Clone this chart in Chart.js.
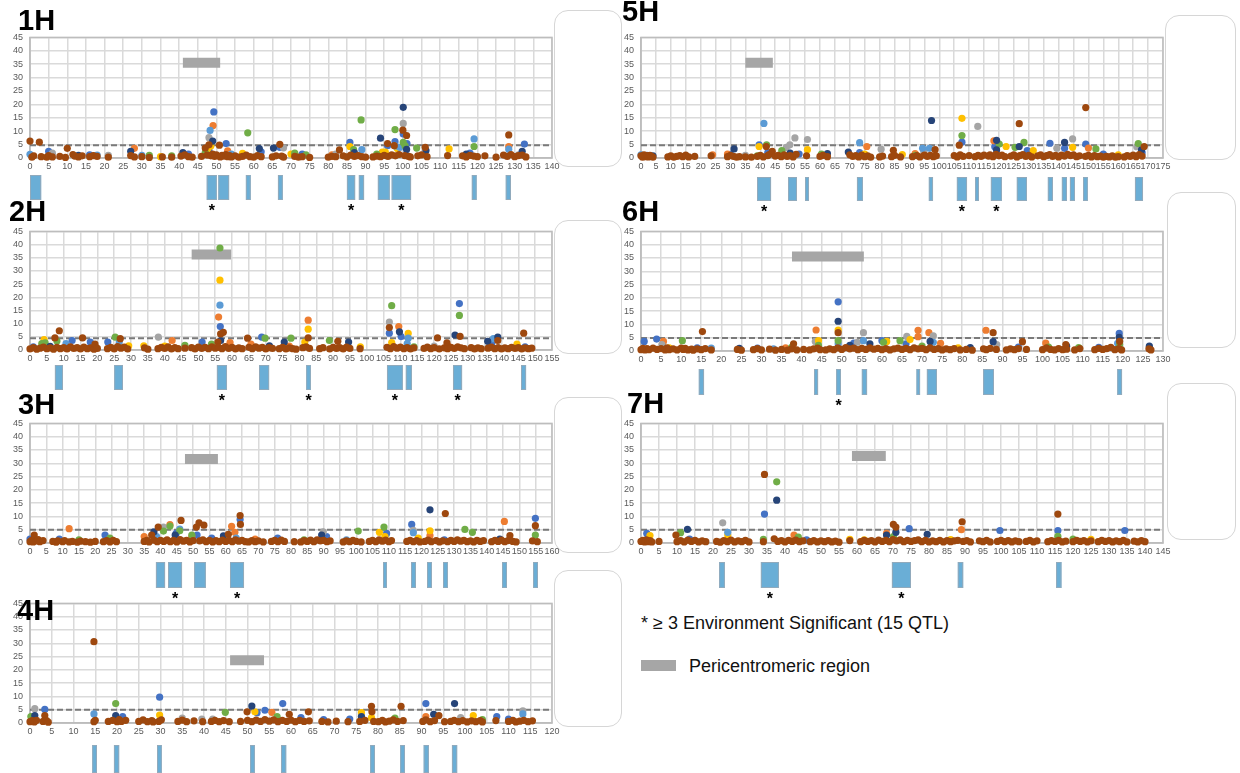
<!DOCTYPE html>
<html>
<head>
<meta charset="utf-8">
<script src="https://cdn.jsdelivr.net/npm/chart.js@4.4.0/dist/chart.umd.min.js"></script>
<style>
  body { margin: 0; width: 1240px; height: 773px; overflow: hidden; background: #fff; position: relative;
         font-family: "Liberation Sans", Arial, sans-serif; }
  .panel { position: absolute; }
  .chr { position: absolute; font-weight: bold; font-size: 29px; line-height: 29px; color: #000; z-index: 2; }
  .box { position: absolute; border: 1px solid #d6d6d6; border-radius: 14px; box-sizing: border-box; }
  .note { position: absolute; font-size: 18px; line-height: 18px; color: #111; white-space: nowrap; }
  .swatch { position: absolute; background: #a6a6a6; }
</style>
</head>
<body>
<div class="box" style="left:554px;top:10px;width:68px;height:157px"></div>
<div class="box" style="left:554px;top:220px;width:68px;height:134px"></div>
<div class="box" style="left:554px;top:397px;width:68px;height:156px"></div>
<div class="box" style="left:554px;top:570px;width:68px;height:157px"></div>
<div class="box" style="left:1165px;top:15px;width:71px;height:145px"></div>
<div class="box" style="left:1167px;top:192px;width:69px;height:156px"></div>
<div class="box" style="left:1167px;top:383px;width:69px;height:157px"></div>

<div class="note" style="left:641px;top:614px">* ≥ 3 Environment Significant (15 QTL)</div>
<div class="swatch" style="left:641px;top:660px;width:35px;height:11px"></div>
<div class="note" style="left:689px;top:657px">Pericentromeric region</div>

<script>
// environments, in the order the series were plotted (last one ends up on top)
const environments = ['E1', 'E2', 'E3', 'E4', 'E5', 'E6', 'E7', 'E8'];
const envColors = ['#4472c4', '#ed7d31', '#a5a5a5', '#ffc000', '#5b9bd5', '#70ad47', '#264478', '#9e480e'];

const chromosomes = ['1H', '2H', '3H', '4H', '5H', '6H', '7H'];
const lengths = [140, 155, 160, 120, 175, 130, 145];      // cM axis maximum
const thresholds = [4.8, 4.5, 5, 5, 4.8, 4.9, 5];         // LOD significance line

// E8 LOD along each chromosome: [cM, LOD]
const base1H = [[0,6.3],[0.5,0.3],[1,0.8],[2.5,5.9],[3,0.5],[4.5,0.3],[5,0.9],[6,0.4],[8,0.6],[9.5,0.2],[10,3.6],[11.5,1.3],[12,0.7],[13,0.4],[14,0.8],[16,0.5],[17,0.9],[18,0.6],[21,0.3],[27,0.9],[28,0.4],[30,0.5],[32,0.2],[35.5,0.4],[38,0.3],[40.5,0.7],[41.5,1.2],[42.5,0.5],[43.5,0.3],[46,0.6],[47,3.7],[47.5,1.1],[48,4.9],[48.5,0.8],[49,1.5],[49.5,0.6],[50,1.2],[50.8,4.8],[51,0.4],[51.5,1],[52,0.7],[52.5,1.3],[53,0.5],[53.5,0.9],[54,0.4],[55,0.8],[56,0.3],[57,0.6],[58,1.1],[59,0.5],[60,0.3],[61,0.9],[62,0.5],[65,0.4],[66,0.8],[67,5.1],[67.5,0.7],[68,0.3],[71,0.6],[72,0.3],[73,0.5],[75,0.2],[80,0.3],[81,0.6],[82,0.5],[83,3],[84,0.8],[85,0.4],[86,1.1],[87,0.6],[88,0.9],[89,0.5],[90,0.3],[92,0.4],[93,0.7],[94,0.5],[95,1],[95.9,5.4],[96,0.6],[97,1.2],[97.7,4.6],[98,0.8],[99,1.3],[100,10.4],[100.5,0.9],[101,8.4],[101.5,0.6],[102,0.4],[104,0.8],[105,1.2],[106,4],[106.5,0.5],[112,0.9],[116,0.8],[117,0.4],[118,1],[119,0.7],[120,0.5],[122,0.8],[125,0.3],[127,1.1],[128,0.6],[128.4,8.6],[129,1.3],[130,0.5],[131,0.9],[132,1.1],[133,0.4]];
const base2H = [[0,0.4],[1,0.9],[2,0.3],[3,0.7],[4,1.1],[5,0.5],[6,0.8],[7,0.3],[7.4,4.6],[8,1],[8.7,7.3],[9,0.5],[10,0.9],[11,0.4],[12,1.2],[13,0.6],[14,0.9],[15,0.4],[15.6,4.6],[16,1.1],[17,0.5],[18,0.8],[19,0.3],[19.3,2.2],[20,0.6],[23,0.5],[24,1],[25,0.4],[26,1.3],[26.8,4.3],[27,0.7],[28,1.1],[29,0.4],[34,0.8],[35,0.3],[38,0.5],[39,1],[40,0.6],[41,1.2],[42,0.4],[43,0.9],[44,0.5],[46,0.7],[48,0.9],[49,0.4],[50,1.1],[51,0.6],[52,1],[53,0.5],[54,1.2],[55,0.7],[55.8,3],[56,1],[56.6,6.1],[57,0.5],[57.4,6.7],[58,1.3],[59,0.6],[60,1],[61,0.4],[62,0.8],[63,0.5],[64.6,4.5],[65,1],[66,0.5],[67,1.2],[68,0.7],[69,1],[70,0.4],[71,0.9],[72,0.6],[74,0.5],[75,1],[76,0.4],[77,0.8],[78,0.5],[79,0.3],[81,0.9],[82,1.2],[82.6,4.6],[83,0.6],[86,0.5],[87,0.9],[89,0.4],[90,1],[91,0.6],[91.4,3.3],[92,0.9],[93,0.4],[94,1.1],[95,0.6],[98,0.5],[106,1],[106.7,8.5],[107,0.5],[108,1.3],[109,0.7],[110,1.1],[111,0.5],[112,0.9],[113,0.4],[114,0.8],[117,0.6],[118,1.1],[119,0.5],[120,0.9],[121,4.6],[121.5,0.4],[123,0.8],[123.8,2.7],[124,0.5],[125,1],[126,0.6],[127,1.2],[127.7,5.2],[128,0.8],[129,0.5],[131,0.9],[132,0.4],[133,0.8],[134,0.5],[136,0.7],[137,1.1],[138,0.5],[138.9,3.6],[139,0.9],[140,0.4],[141,0.8],[142,0.5],[143,1],[144,0.6],[145,0.9],[146,0.4],[146.6,6.4],[147,0.8],[148,0.5],[149,0.7]];
const base3H = [[0,0.5],[0.5,1],[1,0.4],[1.3,3],[2,0.8],[2.5,1.3],[3,0.5],[4,0.9],[7,0.6],[8,0.3],[8.5,0.8],[10,0.5],[10.6,0.9],[12,0.4],[13,0.6],[14.5,0.3],[15.5,0.7],[17,0.5],[18.5,0.3],[20,0.6],[22.5,0.5],[23.5,0.9],[24.5,0.4],[25.5,1],[26.5,0.5],[35,0.6],[35.8,1],[36.5,0.4],[37.3,3],[38,1.1],[39,0.5],[39.3,6],[40,1],[41,0.6],[42,1.2],[43,0.5],[44,1],[45,0.4],[46,1.3],[46.3,8.5],[47,0.7],[48,1],[49,0.4],[50,0.9],[51,6],[51.8,7.6],[52,0.8],[53,1.2],[53.3,6.7],[54,0.5],[55,1],[56,0.4],[57,0.9],[58,0.5],[59,1.1],[60,0.6],[60.8,3.3],[61,1],[62,0.5],[63,1.2],[64,0.7],[64.4,10.3],[64.5,7],[65,1],[66,0.5],[67,0.4],[68,0.9],[69,0.5],[70,0.8],[71.5,0.4],[74,0.6],[75,1],[76,0.5],[77,1.1],[78,0.6],[81,0.5],[83,0.4],[84,0.9],[85,0.6],[86,1.1],[87,0.5],[88,1.2],[89,0.8],[90,1],[91,0.5],[92,0.8],[96,0.4],[97,0.8],[98,0.5],[99,1],[100,0.6],[101.5,0.4],[104,0.6],[105,1],[106,0.5],[107,1.2],[108,0.7],[109,1.1],[110,0.5],[110.8,0.9],[115.5,0.6],[116.5,1],[117.5,0.5],[118.5,0.9],[119.5,0.4],[121,0.6],[122,1.1],[123,0.5],[124.5,0.9],[125.5,0.4],[126.5,0.8],[127.3,11.1],[128,0.5],[129,1],[130,0.6],[131,1.2],[132,0.7],[133,1],[134,0.5],[135,0.8],[136,0.4],[137,1],[138,0.6],[139,0.9],[141.5,0.5],[142.5,1],[143.5,0.6],[144.5,1.1],[145.5,0.5],[146.5,0.9],[147.1,2.8],[148,0.6],[149,0.4],[154,0.8],[154.9,6.5],[155.5,0.5]];
const base4H = [[0,0.5],[0.5,0.9],[1,0.4],[1.5,1],[3,0.6],[3.4,2.8],[3.8,0.9],[4.2,0.3],[14.7,30.6],[14.7,0.5],[15,1],[18,0.6],[19,1],[20,0.5],[20.5,1.3],[21,0.6],[22,1],[25,0.6],[26,1.2],[27,0.5],[28,0.9],[28.3,0.4],[29.6,0.6],[30.2,1.2],[34,0.6],[35,1.1],[36,0.5],[37.7,0.8],[39.7,0.5],[41.7,0.6],[42.5,1],[43.5,0.5],[44.5,0.9],[45.8,0.5],[48.4,0.6],[49.9,4.2],[50,1],[51,0.5],[52,1.1],[53,0.6],[54,1.3],[55,0.7],[56,1.2],[57,0.5],[58,1],[59,0.6],[59.6,3.3],[60,1.1],[61,0.5],[62,1],[63,0.6],[64,4.2],[64.2,0.8],[67.1,0.6],[68.5,0.4],[70.4,0.7],[73.1,0.5],[75.8,0.6],[77,1],[78.5,6.3],[78.6,4.2],[79,0.6],[80.1,0.5],[81,1],[81.7,0.4],[82.6,0.7],[83.5,1.2],[84.5,0.6],[85.3,6.3],[85.8,0.9],[90.3,0.6],[91,1.2],[92,0.5],[93,0.9],[94,2.8],[95.3,0.5],[96.7,0.6],[97.5,1],[98.5,0.5],[99.5,0.9],[100.5,0.4],[101.5,0.8],[102.5,0.5],[103.5,0.9],[104,0.4],[107.1,0.9],[110,0.6],[111,1],[111.7,0.4],[112.6,0.7],[113.5,1],[114.5,0.5],[115.5,0.8]];
const base5H = [[0,0.8],[0.5,0.3],[1,1.2],[1.5,0.5],[2,0.9],[2.5,0.4],[3,1],[3.5,0.6],[4,0.3],[9,0.4],[10,0.8],[11,0.3],[12,0.6],[13,0.9],[14,0.5],[15,1.1],[16,0.4],[18,0.6],[23.5,0.8],[29,0.5],[30,1],[31,0.6],[32,0.3],[33,0.5],[35,0.4],[37,0.3],[39,0.6],[40,1],[41,0.4],[42,4.3],[42.5,0.9],[43,1.3],[44,2.5],[45,0.7],[46,1],[47,0.5],[48,1.2],[49,0.6],[50,0.9],[51,0.4],[52,1.4],[55.5,0.8],[60,0.6],[61,1],[62.5,0.5],[70,1.2],[71,0.6],[72,0.9],[73,0.4],[74,1.1],[75,0.5],[76,0.8],[77,0.3],[80,0.4],[81,0.7],[84,0.5],[84.6,2.9],[85,1],[87,0.4],[91,0.5],[92.5,0.9],[93.5,0.4],[95,1.1],[96,0.6],[97,1],[98,0.5],[98.6,3.1],[99,0.8],[105,0.9],[106,0.4],[106.7,4.8],[107,1.2],[108,0.6],[110,0.9],[112,0.5],[113,1],[114,0.6],[115,1.1],[116.5,0.7],[117,1.2],[118,0.5],[119,1.4],[120,0.8],[121,1.1],[122,0.5],[124,0.7],[125,1.2],[126,0.4],[126.8,12.8],[127,0.9],[128,1.3],[129,0.6],[130,1],[131,0.4],[133,0.8],[134,1.2],[135,0.5],[136,0.9],[137,1.3],[138,0.6],[139,1],[140,0.4],[141,1.1],[142,0.7],[143,1.4],[144,0.9],[145,1.2],[146,0.5],[147,0.8],[149,0.6],[149.1,18.8],[150,1],[151,0.4],[152,0.9],[153,0.5],[154,0.7],[155,0.3],[156,0.6],[157,0.4],[158,0.8],[159,0.3],[160,0.5],[162,0.4],[163,0.9],[164,0.6],[165,1.1],[166,0.5],[167,1.3],[168,0.7],[168.7,4.3]];
const base6H = [[0,0.5],[0.5,1],[1,0.4],[1.5,0.9],[2,0.5],[3,1.1],[4,0.6],[5,0.9],[6,0.4],[6.5,1.2],[7,0.5],[8,0.8],[9,0.4],[10,1.1],[10.5,0.6],[11,1],[11.7,0.4],[12.6,0.7],[13,0.3],[14,0.8],[15,0.5],[15.3,7.3],[16,0.9],[17.5,0.4],[24,0.6],[25,0.3],[28,0.5],[29,0.9],[30,0.4],[32,0.7],[33.5,0.3],[35,0.6],[36.5,0.3],[37.5,0.8],[38,2.7],[38.8,0.4],[40.5,0.6],[42,0.4],[43,0.8],[44,1.1],[44.6,0.5],[46,0.4],[47,0.8],[48,0.5],[49,1.2],[49.1,6.9],[50,0.6],[51,1.3],[52,0.8],[53,1.1],[54,0.5],[55,1],[56,0.6],[57,1.2],[58,0.7],[59,1],[60,0.5],[61,0.9],[62,0.4],[63,0.8],[64,1.1],[65,0.6],[66,1],[67,0.5],[68,1.2],[69,0.8],[70,1],[71,0.5],[72,1.2],[73,0.6],[74,0.9],[75,0.4],[76,0.8],[77,0.5],[78,0.9],[79.5,0.4],[81,0.6],[82.5,0.3],[85.3,0.8],[86,0.5],[87,1],[87.7,6.9],[88.5,0.6],[91,0.4],[92,0.8],[93,0.5],[94,0.9],[95,3.5],[96,0.6],[100,0.5],[101,1.2],[102,0.6],[103,0.4],[104,0.9],[105,0.5],[105.8,2.4],[106,0.7],[108,0.4],[109.3,0.9],[113,0.5],[114,1],[115,0.6],[116,0.9],[117,1.4],[118,0.5],[119,0.9],[119.2,3.6],[119.7,0.4],[126.5,0.8],[127,0.4]];
const base7H = [[0,0.6],[0.5,1],[1,0.4],[1.5,1.2],[2,0.5],[2.5,0.9],[3,0.4],[5,0.6],[9.7,3],[10,0.5],[11,0.9],[12,0.4],[13,1.1],[14,0.6],[15,1],[16,0.4],[17,0.8],[18,0.5],[21,0.6],[22,0.3],[23,0.9],[24,0.5],[25,1.1],[26,0.4],[27,0.8],[28,0.5],[29,1],[30,0.4],[34,0.5],[34.3,25.8],[37,1.6],[38,0.6],[39,0.9],[40,0.4],[41,1],[42,0.6],[43,1.1],[44,0.5],[45,0.8],[47,0.5],[48,0.9],[49,0.4],[50,0.8],[51,0.5],[52,0.9],[53,0.4],[54,0.7],[55,0.3],[58,0.9],[61,0.5],[62,1],[63,0.6],[64,0.9],[65,0.4],[66,1.1],[67,0.6],[68,1],[69,0.5],[70,1.3],[70.1,7],[70.8,6],[71,0.8],[72,1.2],[73,0.5],[74,1],[75,0.6],[76,0.9],[77,1.2],[78,0.5],[79,1],[80,0.4],[81,0.8],[82,0.5],[83,1],[84,0.4],[85,0.9],[86,0.5],[87,0.8],[88,1],[89.2,8],[89.5,0.6],[90.5,0.9],[91.5,0.4],[94,0.8],[95,0.5],[96,1],[97,0.4],[99,0.6],[100,1],[101,0.5],[102,0.9],[103,0.4],[104,0.8],[105,0.5],[107,0.6],[108,1],[109,0.4],[110,0.8],[113,0.5],[114,0.9],[115,0.6],[115.8,10.9],[116,1],[117,0.4],[118,0.7],[120,0.5],[121,1],[122,0.6],[123,0.9],[124,0.4],[125,0.8],[127,0.5],[128,1],[129,0.6],[130,0.9],[131,0.4],[132,0.8],[133,0.5],[134,1],[135,0.4],[137,0.7],[138,0.4],[139,0.9],[140,0.5]];

// remaining environments: [environment index, cM, LOD]
const hits1H = [[0,5,2.5],[2,6,1.8],[4,0,1.4],[6,13,1],[0,16,1.2],[4,18,1.1],[2,21,1],[6,27,2.5],[1,28,3.6],[4,30,1],[5,32,1],[3,35,0.5],[5,38,0.8],[6,41,2],[0,42.5,1.5],[5,47,2],[3,47.7,3.5],[0,48,2.7],[2,48,7.6],[4,48.3,10.3],[1,49.1,12.1],[6,49,6.3],[0,49.3,17.2],[3,48.5,4.5],[0,52.6,5.4],[1,53,2.7],[4,54,1.5],[3,57,1.7],[5,58.4,9.4],[6,61.5,3.5],[0,62,2.3],[6,65.3,3.7],[0,67,4],[2,68,3.8],[3,70,1.5],[5,71,1.8],[0,73,1.5],[5,74,1.2],[1,81,1.2],[2,82,1.5],[0,85.8,5.8],[3,85.8,4.3],[5,86.8,3.1],[4,89,3.1],[5,88.8,14.2],[6,87,2],[3,94.5,2.2],[3,95.3,2.2],[6,94,7.4],[0,95.9,4.6],[5,93,1.5],[5,97.9,10.6],[0,97.9,6.1],[4,98,4.5],[3,98.5,3.5],[6,100.1,18.9],[2,100.1,12.9],[0,100.1,9],[5,100.1,5.8],[4,99.2,4],[0,101.1,5.4],[5,100.6,4.5],[6,101,3.2],[5,103.7,3.7],[6,106.2,2.8],[3,112.4,3.4],[4,119.1,7.1],[5,119.1,4.3],[6,117,1.5],[0,118,1.8],[1,128.4,4.3],[4,128.4,3.3],[0,132.6,5.2],[6,132,2.5],[2,131,1.2]];
const hits2H = [[3,4.2,3.9],[5,3.5,2.4],[5,4.5,2.7],[5,8,3.4],[4,10.7,2.4],[0,12.5,3.6],[0,17.9,3],[0,1,1.2],[6,6,1.4],[5,25.3,4.9],[4,26.5,3],[0,23.1,3],[3,29.3,1.6],[3,33.8,1.6],[2,38.1,4.9],[1,42.2,3.6],[3,40,1.5],[5,46,1.8],[0,51.1,3],[5,53.9,2.2],[5,56.4,38.7],[3,56.4,26.5],[4,56.4,17],[1,56,12.5],[0,56.5,8.9],[6,56.6,3.6],[1,59.4,2.8],[1,65.6,2.2],[0,68.8,4.9],[5,69.8,4.5],[6,71.1,1.6],[6,75.5,3],[5,77.5,4.5],[1,77,1.5],[3,81.6,3],[1,82.6,11.3],[3,82.6,7.9],[5,88.9,3.6],[6,94.6,3],[3,98.1,1.2],[5,107.4,16.8],[2,106.7,10.6],[1,109.5,8.9],[0,106.7,6.4],[6,109.7,6.9],[0,110.2,5.1],[3,112.3,6.3],[4,112.3,4.5],[3,107.4,2.8],[4,112,2.4],[5,114,1.2],[2,120,1.5],[0,127.5,17.6],[5,127.5,13.1],[6,126.2,5.7],[1,124,1.8],[6,135.9,3.3],[0,137.1,2.7],[6,138.9,4.9],[4,137.6,4.3],[3,144.6,2.2],[0,147,1.2]];
const hits3H = [[0,0,1.5],[1,12,5.4],[0,23,3],[5,24.5,1.8],[5,15,1.2],[0,9,1.5],[1,35,2.4],[6,38,4.2],[2,40.9,6],[5,40.9,4.5],[4,38.8,2.4],[1,42.9,6.9],[5,42.9,6.4],[0,44.8,3.6],[5,45.9,4.6],[4,45.9,5.2],[6,44.5,3],[5,49.6,3],[1,49.6,2.4],[0,51.2,3],[0,55.7,1.8],[6,59.3,2.7],[1,61.8,6.3],[1,62.8,4],[0,64.4,8.8],[4,63.2,1.8],[1,69,1.5],[0,75.9,1.8],[5,84,1.2],[2,89.9,4.2],[6,89.4,3],[0,90.9,2.4],[4,97,1.2],[5,100.6,4.5],[3,107.1,4],[5,108.5,6],[0,109.3,3.6],[3,108.8,2.4],[0,117,7],[4,117.5,3.9],[2,117.5,4.8],[3,119,1.8],[6,122.6,12.5],[3,122.6,4.6],[1,122.6,2.8],[0,127,1.2],[5,133.3,5.1],[5,135.6,4],[1,145.4,8.1],[6,144,1.5],[0,154.9,9.3],[5,154.9,3]];
const hits4H = [[2,1.1,5.4],[6,1.1,2.8],[5,0.2,2.4],[0,3.4,5.1],[4,14.7,3.4],[5,19.7,7.3],[6,19.7,2.8],[0,21.3,2.4],[0,29.8,9.7],[3,29.8,3],[2,35,1.8],[2,39.5,1.5],[2,42,1.5],[5,44.9,4],[6,51,6.4],[0,52.2,3.9],[3,51.7,4.2],[0,54,4.8],[1,55.6,4],[5,56.8,2.4],[0,58.1,7.3],[0,62.3,2],[0,67.5,1.3],[0,73.5,1.5],[3,76.2,3.9],[6,76.2,2.4],[3,78.5,2],[5,83.9,1.8],[0,91,7.3],[1,91,2.4],[6,92.8,3.3],[6,97.6,7.3],[3,101.9,2.8],[2,99,2],[0,107.3,2.4],[0,110,1.5],[2,113.3,4.6],[4,113.3,3.4],[5,104,1.3]];
const hits5H = [[4,0,1.2],[0,2,1],[6,4,0.8],[1,24,1.2],[1,29,1.5],[6,31.2,3.4],[0,30,1.4],[2,35,1],[5,39,0.8],[4,41.2,12.9],[0,39.6,4.9],[3,39.6,4.3],[5,42.1,4.9],[0,42.5,2],[5,47.2,2.8],[2,48.7,4],[2,49.9,4.9],[2,51.6,7.5],[2,55.8,6.9],[3,55.8,3.1],[6,50,1.8],[0,53,1.5],[5,60.5,1.5],[6,62.5,1.6],[6,69.5,2.2],[4,73.3,5.7],[1,75.7,4.3],[0,73.3,2],[3,75,1.5],[2,80.5,3.3],[3,87.6,1.3],[1,91.9,1.6],[4,94.4,3.6],[4,96.7,3.6],[2,94.8,2.5],[6,97.4,14],[5,92,1],[3,107.6,14.8],[5,107.6,8.4],[0,107.6,5.9],[2,112.9,11.8],[1,118.3,6.4],[6,119.2,6.6],[0,118.6,4.2],[6,119.2,3],[5,120.1,5.2],[3,122.4,4.3],[5,125.4,4],[6,126.8,4.3],[5,128.4,5.8],[0,129.5,2.8],[3,131.5,2.8],[0,137.1,5.5],[6,142,5.8],[0,142,3.6],[2,139.4,3.6],[2,144.7,7.1],[3,144.7,4],[0,149.1,5.2],[1,150,3.7],[5,152.5,3.4],[0,155,1.5],[3,160,1.2],[5,166.7,5.4],[2,166.2,4.2],[6,167.8,3],[0,168,2]];
const hits6H = [[0,0.8,3.6],[0,3.9,4.5],[1,5.6,3.6],[2,5.2,2.4],[5,10.3,3.9],[3,7,1.2],[0,14,1.2],[4,17.5,1.1],[6,24.5,1],[0,29,1.1],[4,33,0.8],[1,36,1.2],[5,37.5,1.4],[1,43.6,7.9],[3,44.2,3.9],[2,43.4,3.6],[5,44.2,2.1],[0,49.1,18.5],[6,49.1,11.2],[3,49.1,7.9],[5,49.1,3.9],[4,49.1,2.7],[6,52,2.1],[0,53,3],[2,53.9,3.3],[2,55.4,6.9],[4,55.4,3.9],[6,57,2.7],[0,60,3.9],[5,60.4,3.3],[3,61.2,3.6],[5,64.5,3.9],[2,66.2,5.5],[0,66,2.7],[3,67,4.3],[1,69,7.8],[1,69,5.4],[1,71.7,6.9],[2,72.8,5.7],[6,72,3.6],[4,72.8,3.3],[1,74.6,2.9],[5,70,1.8],[3,79,1.2],[6,82,1.3],[1,85.9,7.8],[6,87.7,3.5],[2,88.6,2.4],[0,94,1.5],[1,100.8,3],[5,101.5,1.5],[6,106,1.8],[5,109,1.3],[0,114,1.4],[0,119.1,6.6],[6,119.1,5.1],[4,118.7,2.9],[5,119.2,2.4],[6,126.6,1.8]];
const hits7H = [[0,1.6,3.6],[3,2.5,2.8],[5,11,3.9],[6,12.9,5.1],[0,13.5,1.5],[2,22.7,7.6],[4,24.1,4],[3,24.1,3],[0,34.3,10.9],[5,37.7,23],[6,37.7,16.1],[5,34,1.4],[1,42.5,3],[5,43.7,2.2],[0,46,1.2],[3,58,1.4],[3,62,1.2],[6,70.8,4],[5,70.1,2.4],[6,68.2,3],[1,68.2,3.6],[0,74.5,5.4],[6,79.5,3.3],[3,86,1.3],[1,89,5],[0,99.7,4.7],[0,115.8,4.7],[5,115.8,2.5],[0,134.4,4.7],[5,120,1.5],[3,125,1.4]];

// QTL intervals [start cM, end cM, significant in >= 3 environments]
const qtl1H = [[0,3,0],[47.4,50.1,1],[50.5,53.4,0],[57.9,59.2,0],[66.5,67.8,0],[85,87.2,1],[88.2,89.6,0],[93.3,96.5,0],[97,102.2,1],[118.5,119.8,0],[127.6,129,0]];
const qtl2H = [[7.4,9.8,0],[25,27.6,0],[55.5,58.5,1],[68,71,0],[82,83.4,1],[106,110.7,1],[111.6,113.4,0],[125.6,128.3,1],[145.8,147.3,0]];
const qtl3H = [[38.6,41.4,0],[42.3,46.6,1],[50.3,53.9,0],[61.3,65.6,1],[108.2,109.4,0],[116.8,118.3,0],[121.7,123.2,0],[126.6,128.1,0],[144.7,146.2,0],[154.2,155.7,0]];
const qtl4H = [[14.3,15.4,0],[19.3,20.5,0],[29.2,30.3,0],[50.6,51.7,0],[57.7,58.9,0],[78.2,79.3,0],[85.1,86.2,0],[90.5,91.7,0],[97,98.2,0]];
const qtl5H = [[38.9,43.6,1],[49.3,52.3,0],[55,56.3,0],[72.4,74.4,0],[96.5,97.9,0],[105.9,109.3,1],[112,113.3,0],[117.3,121,1],[126,129.4,0],[136.4,138.1,0],[141.1,142.8,0],[143.8,145.5,0],[148.2,149.8,0],[165.6,168.3,0]];
const qtl6H = [[14.4,15.7,0],[43.1,44.1,0],[48.6,49.8,1],[55,56.3,0],[68.6,69.5,0],[71.2,73.7,0],[85.2,87.9,0],[118.6,119.8,0]];
const qtl7H = [[21.7,23.3,0],[33.3,38.3,1],[69.7,75,1],[88,89.5,0],[115.3,116.8,0]];

// pericentromeric region [start cM, end cM]
const peri = [[41,51],[48,59.7],[47.5,57.6],[46,53.8],[35,44.2],[37.6,55.5],[58.6,68]];

const bases = [base1H, base2H, base3H, base4H, base5H, base6H, base7H];
const hits = [hits1H, hits2H, hits3H, hits4H, hits5H, hits6H, hits7H];
const qtls = [qtl1H, qtl2H, qtl3H, qtl4H, qtl5H, qtl6H, qtl7H];

// page placement of each plot area
const layout = [
  { left: 30,  top: 33,  h: 125, tx: 18, ty: 5.5,  gap: 17, qh: 25, barY: 35.5 },
  { left: 30,  top: 227, h: 123, tx: 9,  ty: 197,  gap: 15, qh: 25, barY: 36.2 },
  { left: 30,  top: 419, h: 124, tx: 18, ty: 390,  gap: 19, qh: 26, barY: 31.6 },
  { left: 30,  top: 599, h: 124, tx: 17, ty: 596,  gap: 22, qh: 28, barY: 23.6 },
  { left: 641, top: 33,  h: 125, tx: 622, ty: -3,  gap: 19, qh: 24, barY: 35.5 },
  { left: 641, top: 227, h: 124, tx: 622, ty: 197, gap: 18, qh: 26, barY: 35.6 },
  { left: 641, top: 419, h: 124, tx: 627, ty: 389, gap: 19, qh: 26, barY: 32.7 }
];

Chart.defaults.font.family = '"Liberation Sans", Arial, sans-serif';

// plot area outline, under the points
const framePlugin = {
  id: 'frame',
  beforeDatasetsDraw(chart) {
    const { ctx, chartArea: a } = chart;
    ctx.save();
    ctx.strokeStyle = '#bdbdbd';
    ctx.lineWidth = 1.5;
    ctx.strokeRect(a.left, a.top, a.right - a.left, a.bottom - a.top);
    ctx.restore();
  }
};

// QTL boxes under the axis, with a star on the ones significant in 3+ environments
const qtlPlugin = {
  id: 'qtl',
  afterDraw(chart, args, opts) {
    const { ctx, chartArea, scales: { x } } = chart;
    const top = chartArea.bottom + opts.gap;
    ctx.save();
    opts.regions.forEach(([s, e, star]) => {
      const x1 = x.getPixelForValue(s), x2 = x.getPixelForValue(e);
      ctx.fillStyle = '#6aaed6';
      ctx.fillRect(x1, top, x2 - x1, opts.height);
      ctx.strokeStyle = 'rgba(150,170,185,0.9)';
      ctx.lineWidth = 1;
      ctx.strokeRect(x1 + 0.5, top + 0.5, x2 - x1 - 1, opts.height - 1);
      if (star) {
        ctx.fillStyle = '#000';
        ctx.font = 'bold 16px "Liberation Sans", Arial, sans-serif';
        ctx.textAlign = 'center';
        ctx.fillText('*', (x1 + x2) / 2, top + opts.height + 16);
      }
    });
    ctx.restore();
  }
};

chromosomes.forEach((name, i) => {
  const L = layout[i];
  const W = 564, H = 8 + L.h + 60;

  const title = document.createElement('div');
  title.className = 'chr';
  title.style.left = L.tx + 'px';
  title.style.top = L.ty + 'px';
  title.textContent = name;
  document.body.appendChild(title);

  const wrap = document.createElement('div');
  wrap.className = 'panel';
  wrap.style.left = (L.left - 30) + 'px';
  wrap.style.top = (L.top - 8) + 'px';
  const cv = document.createElement('canvas');
  cv.width = W; cv.height = H;
  cv.style.width = W + 'px'; cv.style.height = H + 'px';
  wrap.appendChild(cv);
  document.body.appendChild(wrap);

  // brown (last environment) on top, so datasets go last-to-first
  const datasets = [];
  for (let env = environments.length - 1; env >= 0; env--) {
    const pts = hits[i].filter(h => h[0] === env).map(h => ({ x: h[1], y: h[2] }));
    if (env === environments.length - 1) bases[i].forEach(p => pts.push({ x: p[0], y: p[1] }));
    datasets.push({
      label: environments[env],
      data: pts,
      backgroundColor: envColors[env],
      borderColor: envColors[env],
      borderWidth: 0,
      pointRadius: 3.6,
      clip: false
    });
  }
  datasets.push({
    label: 'threshold',
    data: [{ x: 0, y: thresholds[i] }, { x: lengths[i], y: thresholds[i] }],
    showLine: true, pointRadius: 0,
    borderColor: '#7a7a7a', borderWidth: 2, borderDash: [6, 3]
  });
  datasets.push({
    label: 'pericentromeric',
    data: [{ x: peri[i][0], y: L.barY }, { x: peri[i][1], y: L.barY }],
    showLine: true, pointRadius: 0,
    borderColor: '#a6a6a6', borderWidth: 10, borderCapStyle: 'butt'
  });

  new Chart(cv.getContext('2d'), {
    type: 'scatter',
    data: { datasets },
    options: {
      responsive: false,
      animation: false,
      events: [],
      layout: { padding: { top: 8, right: 12, left: 0, bottom: 0 } },
      plugins: {
        legend: { display: false },
        tooltip: { enabled: false },
        qtl: { regions: qtls[i], gap: L.gap, height: L.qh }
      },
      scales: {
        x: {
          type: 'linear', min: 0, max: lengths[i],
          afterFit: s => { s.height = 60; },
          grid: { color: '#dadada', lineWidth: 1.5, drawTicks: false },
          border: { color: '#bdbdbd', width: 1.5 },
          ticks: { stepSize: 5, autoSkip: false, maxRotation: 0, minRotation: 0, padding: 3,
                   color: '#595959', font: { size: 9 } }
        },
        y: {
          min: 0, max: 45,
          afterFit: s => { s.width = 30; },
          grid: { color: '#dadada', lineWidth: 1.5, drawTicks: false },
          border: { color: '#bdbdbd', width: 1.5 },
          ticks: { stepSize: 5, autoSkip: false, padding: 7, color: '#595959', font: { size: 9 } }
        }
      }
    },
    plugins: [framePlugin, qtlPlugin]
  });
});
</script>
</body>
</html>
